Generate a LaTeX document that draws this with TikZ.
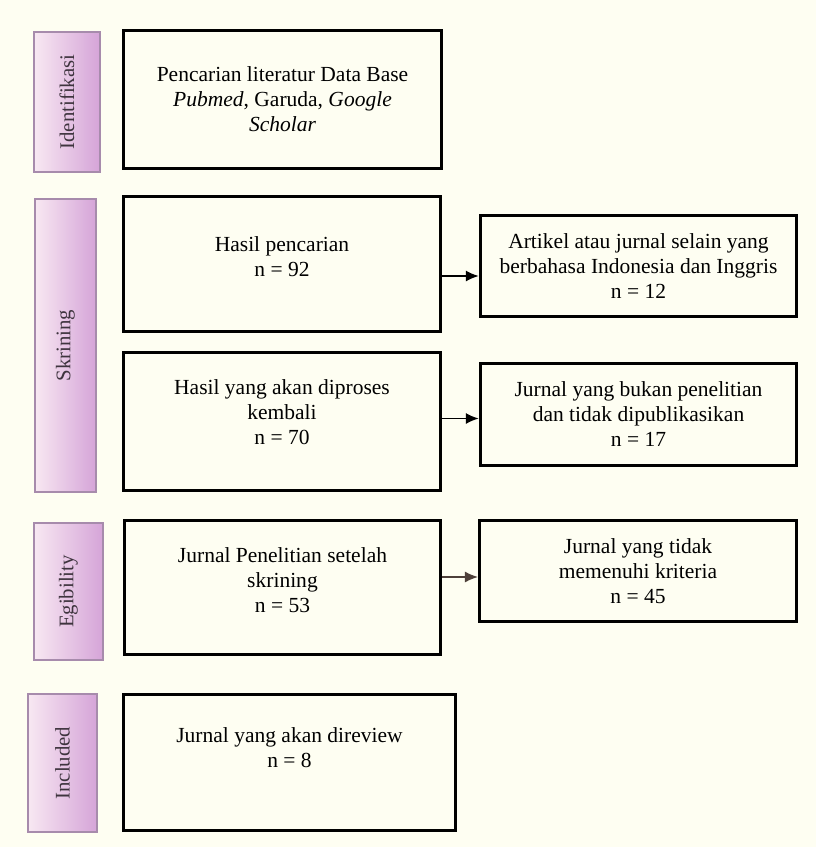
\documentclass[tikz,border=0pt]{standalone}
\usepackage{fontspec}
\setmainfont{Liberation Serif}
\usepackage{tikz}
\usetikzlibrary{arrows.meta,positioning}
\definecolor{bgcream}{HTML}{FEFEF2}
\definecolor{barlight}{HTML}{F8E8F2}
\definecolor{bardark}{HTML}{D5A4D8}
\definecolor{barline}{HTML}{A78BAC}
\definecolor{bartext}{HTML}{3E343E}
\definecolor{arrowgray}{HTML}{4E403A}
\tikzset{
  stagebar/.style={
    draw=barline,
    line width=0.8pt,
    left color=barlight,
    right color=bardark,
    rotate=90,
    inner sep=2pt,
    text=bartext,
    font=\fontsize{14.8}{17}\selectfont
  },
  flowbox/.style={
    draw=black,
    fill=bgcream,
    line width=2.2pt,
    align=center,
    inner sep=3pt,
    font=\fontsize{15.3}{17.8}\selectfont
  },
  flowarrow/.style={-{Latex[length=3.3mm,width=2.8mm]},line width=1.4pt,draw=black}
}

\begin{document}
\begin{tikzpicture}[x=1cm,y=1cm]
    \fill[bgcream] (0,0) rectangle (20.4,-21.175);
    \useasboundingbox (0,0) rectangle (20.4,-21.175);

    % stage labels on the left
    \node[stagebar,minimum width=3.5cm,minimum height=1.65cm] (identifikasi) at (1.675,-2.55) {Identifikasi};
    \node[stagebar,minimum width=7.325cm,minimum height=1.525cm] (skrining) at (1.6375,-8.6375) {Skrining};
    \node[stagebar,minimum width=3.425cm,minimum height=1.725cm] (egibility) at (1.7125,-14.7875) {Egibility};
    \node[stagebar,minimum width=3.45cm,minimum height=1.725cm] (included) at (1.5625,-19.075) {Included};

    % main column
    \node[flowbox,minimum width=7.95cm,minimum height=3.45cm] (pencarian) at (7.0625,-2.4875) {
      Pencarian literatur Data Base\\
      \textit{Pubmed}, Garuda, \textit{Google}\\
      \textit{Scholar}};
    \node[flowbox,minimum width=7.925cm,minimum height=3.375cm,text depth=3.5mm] (hasil) at (7.05,-6.6) {
      Hasil pencarian\\
      n = 92};
    \node[flowbox,minimum width=7.925cm,minimum height=3.45cm,text depth=4.7mm] (diproses) at (7.05,-10.5375) {
      Hasil yang akan diproses\\
      kembali\\
      n = 70};
    \node[flowbox,minimum width=7.9cm,minimum height=3.35cm,text depth=3.7mm] (penelitian) at (7.0625,-14.6875) {
      Jurnal Penelitian setelah\\
      skrining\\
      n = 53};
    \node[flowbox,minimum width=8.3cm,minimum height=3.4cm,text depth=7.7mm] (direview) at (7.2375,-19.0625) {
      Jurnal yang akan direview\\
      n = 8};

    % excluded records
    \node[flowbox,minimum width=7.9cm,minimum height=2.525cm] (bahasa) at (15.9625,-6.65) {
      Artikel atau jurnal selain yang\\
      berbahasa Indonesia dan Inggris\\
      n = 12};
    \node[flowbox,minimum width=7.9cm,minimum height=2.55cm] (bukan) at (15.9625,-10.3625) {
      Jurnal yang bukan penelitian\\
      dan tidak dipublikasikan\\
      n = 17};
    \node[flowbox,minimum width=7.925cm,minimum height=2.525cm] (kriteria) at (15.95,-14.275) {
      Jurnal yang tidak\\
      memenuhi kriteria\\
      n = 45};

    \draw[flowarrow] ([yshift=-2.5mm]bahasa.west -| hasil.east) -- ([yshift=-2.5mm]bahasa.west);
    \draw[flowarrow] ([yshift=-1mm]bukan.west -| diproses.east) -- ([yshift=-1mm]bukan.west);
    \draw[flowarrow,draw=arrowgray,line width=1pt] ([yshift=-1.5mm]kriteria.west -| penelitian.east) -- ([yshift=-1.5mm]kriteria.west);
  \end{tikzpicture}
\end{document}
